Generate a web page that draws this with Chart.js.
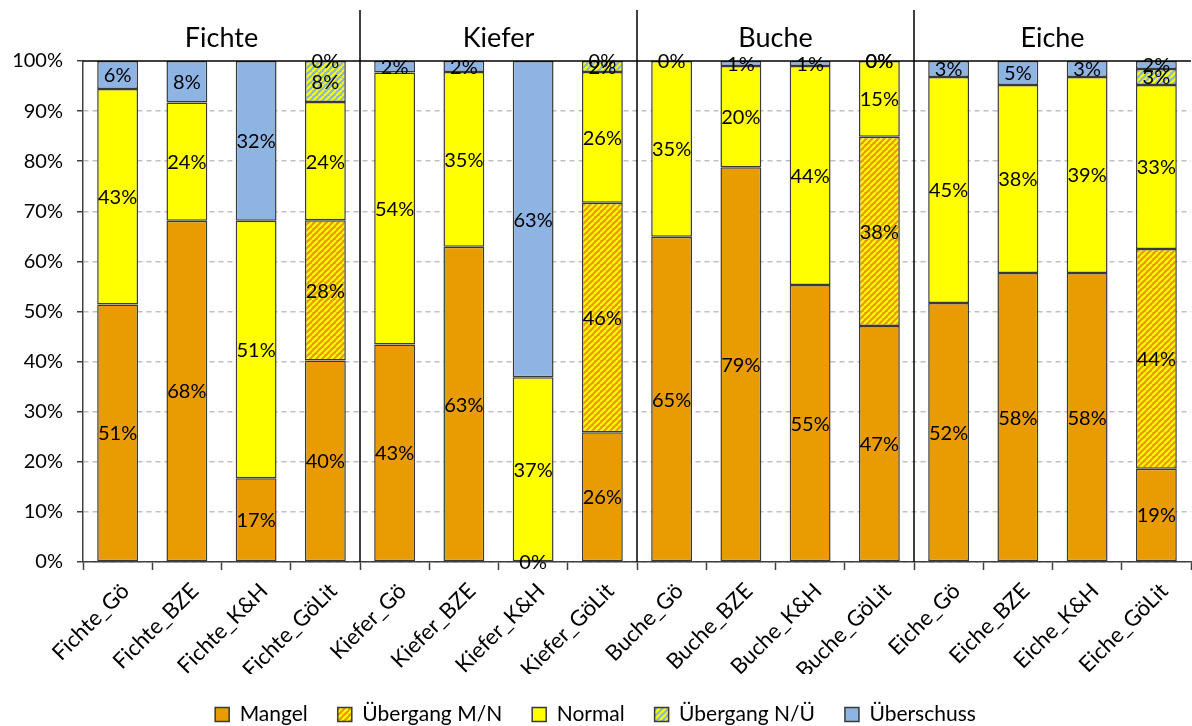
<!DOCTYPE html>
<html>
<head>
<meta charset="utf-8">
<script src="https://cdn.jsdelivr.net/npm/chart.js@4/dist/chart.umd.min.js"></script>
<style>
  html, body { margin: 0; padding: 0; background: #fff; }
  #wrap { width: 1192px; height: 726px; }
</style>
</head>
<body>
<div id="wrap"><canvas id="myChart" width="1192" height="726"></canvas></div>
<script>
const categories = [
    'Fichte_Gö', 'Fichte_BZE', 'Fichte_K&H', 'Fichte_GöLit',
    'Kiefer_Gö', 'Kiefer_BZE', 'Kiefer_K&H', 'Kiefer_GöLit',
    'Buche_Gö', 'Buche_BZE', 'Buche_K&H', 'Buche_GöLit',
    'Eiche_Gö', 'Eiche_BZE', 'Eiche_K&H', 'Eiche_GöLit'
];
const groups = ['Fichte', 'Kiefer', 'Buche', 'Eiche'];

const mangel     = [51.4, 68.1, 16.7, 40.2, 43.4, 62.9, 0, 25.9, 64.9, 78.8, 55.3, 47.1, 51.7, 57.7, 57.7, 18.6];
const uebergMN   = [null, null, null, 28.0, null, null, null, 45.8, null, null, null, 37.8, null, null, null, 43.9];
const normal     = [43.0, 23.6, 51.4, 23.6, 54.3, 34.9, 36.9, 26.1, 35.1, 20.2, 43.7, 15.1, 45.1, 37.5, 39.1, 32.7];
const uebergNU   = [null, null, null, 8.2, null, null, null, 2.2, null, null, null, 0, null, null, null, 3.2];
const ueberschuss = [5.6, 8.3, 31.9, 0, 2.3, 2.2, 63.1, 0, 0, 1.0, 1.0, 0, 3.2, 4.8, 3.2, 1.6];

const yTicks = [0, 10, 20, 30, 40, 50, 60, 70, 80, 90, 100];

const ORANGE = '#E89C02';
const YELLOW = '#FFFF00';
const BLUE = '#8EB4E3';
const FONT = 'Lato, "Open Sans", sans-serif';

function stripes(bg, fg) {
    const c = document.createElement('canvas');
    c.width = 6; c.height = 6;
    const g = c.getContext('2d');
    g.fillStyle = bg;
    g.fillRect(0, 0, 6, 6);
    g.strokeStyle = fg;
    g.lineWidth = 2;
    g.beginPath();
    for (let k = -6; k <= 12; k += 6) {
        g.moveTo(k, 6);
        g.lineTo(k + 6, 0);
    }
    g.stroke();
    return g.createPattern(c, 'repeat');
}

const ctx = document.getElementById('myChart').getContext('2d');
const hatchMN = stripes(ORANGE, YELLOW);
const hatchNU = stripes(BLUE, YELLOW);

// data labels + group titles + separators
const extras = {
    id: 'extras',
    afterDatasetsDraw(chart) {
        const c = chart.ctx;
        const x = chart.scales.x;
        const y = chart.scales.y;
        const area = chart.chartArea;
        c.save();
        // top solid line at 100%
        c.strokeStyle = '#000';
        c.lineWidth = 1.5;
        c.beginPath();
        c.moveTo(area.left, y.getPixelForValue(100));
        c.lineTo(area.right, y.getPixelForValue(100));
        c.stroke();
        // separators
        for (let i = 1; i < groups.length; i++) {
            const sx = (x.getPixelForValue(i * 4 - 1) + x.getPixelForValue(i * 4)) / 2;
            c.beginPath();
            c.moveTo(sx, 10);
            c.lineTo(sx, area.bottom);
            c.stroke();
        }
        // group titles
        c.fillStyle = '#000';
        c.font = '27px ' + FONT;
        c.textAlign = 'center';
        c.textBaseline = 'middle';
        groups.forEach((g, i) => {
            const gx = (x.getPixelForValue(i * 4) + x.getPixelForValue(i * 4 + 3)) / 2;
            c.fillText(g, gx, 38);
        });
        // data labels
        c.font = '20px ' + FONT;
        chart.data.datasets.forEach((ds, di) => {
            const meta = chart.getDatasetMeta(di);
            meta.data.forEach((el, i) => {
                const v = ds.data[i];
                if (v === null) return;
                const cy = (el.y + el.base) / 2;
                c.fillText(Math.round(v) + '%', el.x, cy + 1);
            });
        });
        c.restore();
    }
};

function ds(label, data, color) {
    return {
        label: label,
        data: data,
        backgroundColor: color,
        borderColor: '#3a3a3a',
        borderWidth: 1.5,
        borderSkipped: false,
        barPercentage: 0.59,
        categoryPercentage: 1.0
    };
}

const myChart = new Chart(ctx, {
    type: 'bar',
    data: {
        labels: categories,
        datasets: [
            ds('Mangel', mangel, ORANGE),
            ds('Übergang M/N', uebergMN, hatchMN),
            ds('Normal', normal, YELLOW),
            ds('Übergang N/Ü', uebergNU, hatchNU),
            ds('Überschuss', ueberschuss, BLUE)
        ]
    },
    options: {
        responsive: false,
        animation: false,
        layout: { padding: { top: 61, right: 1, left: 0, bottom: -9 } },
        plugins: {
            tooltip: { enabled: false },
            legend: {
                position: 'bottom',
                labels: {
                    font: { family: FONT, size: 21 },
                    color: '#000',
                    boxWidth: 14,
                    boxHeight: 14,
                    padding: 30
                }
            }
        },
        scales: {
            x: {
                stacked: true,
                afterFit(scale) { scale.height = 112; },
                grid: {
                    offset: true,
                    drawOnChartArea: false,
                    tickLength: 8,
                    tickColor: '#404040',
                    tickWidth: 1.5
                },
                border: { color: '#404040', width: 1.5 },
                ticks: {
                    minRotation: 45,
                    maxRotation: 45,
                    color: '#000',
                    font: { family: FONT, size: 22 },
                    padding: 8,
                    labelOffset: 8
                }
            },
            y: {
                stacked: true,
                min: 0,
                max: 100,
                afterFit(scale) { scale.width = 83; },
                afterBuildTicks(scale) { scale.ticks = yTicks.map(v => ({ value: v })); },
                grid: {
                    color: ctx => (ctx.tick && ctx.tick.value === 100) ? 'rgba(0,0,0,0)' : '#C0C0C0',
                    lineWidth: 1.5,
                    tickLength: 6,
                    tickColor: '#404040',
                    tickWidth: 1.5,
                    tickBorderDash: []
                },
                border: { color: '#404040', width: 1.5, dash: [5, 4] },
                ticks: {
                    color: '#000',
                    font: { family: FONT, size: 20 },
                    padding: 14,
                    callback: v => v + '%'
                }
            }
        }
    },
    plugins: [extras]
});
</script>
</body>
</html>
